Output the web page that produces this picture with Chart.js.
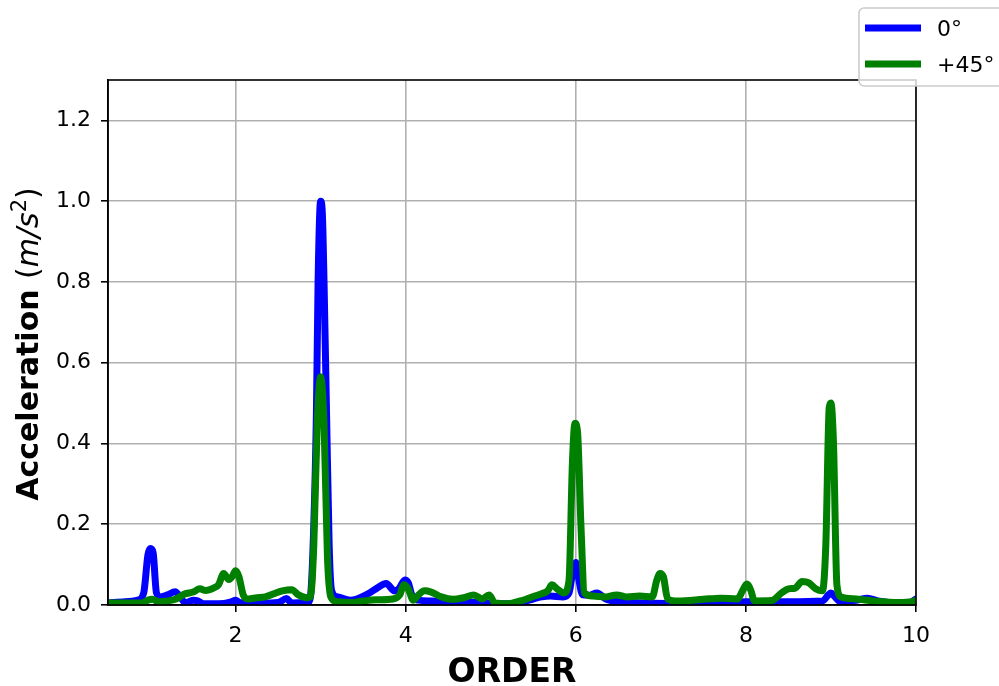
<!DOCTYPE html>
<html>
<head>
<meta charset="utf-8">
<script src="https://cdn.jsdelivr.net/npm/chart.js@4/dist/chart.umd.min.js"></script>
<style>
  html, body { margin: 0; padding: 0; background: #fff; }
  #c { display: block; }
</style>
</head>
<body>
<canvas id="c" width="999" height="686"></canvas>
<script>
// ---- Data ----
const order0 = [0.5, 0.7, 0.85, 0.92, 0.97, 1.0, 1.03, 1.07, 1.12, 1.2, 1.29, 1.35, 1.41, 1.5, 1.56, 1.62, 1.8, 1.95, 2.0, 2.05, 2.3, 2.5, 2.6, 2.66, 2.85,
  2.88, 2.92, 2.95, 2.97, 3.0, 3.02, 3.04, 3.07, 3.1, 3.13, 3.2, 3.35, 3.55, 3.65, 3.77, 3.87, 3.92, 3.99, 4.03, 4.08, 4.15, 4.3, 4.6, 4.9, 5.1, 5.3,
  5.45, 5.6, 5.7, 5.85, 5.92, 5.97, 6.0, 6.03, 6.08, 6.15, 6.25, 6.35, 6.5, 6.8, 7.2, 7.6, 8.0, 8.5, 8.9, 8.97, 9.0, 9.04, 9.1, 9.3, 9.43, 9.55,
  9.8, 9.92, 10.0];
const accel0 = [0.005, 0.008, 0.012, 0.03, 0.125, 0.14, 0.13, 0.03, 0.02, 0.025, 0.033, 0.02, 0.005, 0.012, 0.01, 0.003, 0.003, 0.008, 0.012, 0.006, 0.004, 0.006, 0.016, 0.005, 0.006,
  0.02, 0.2, 0.47, 0.8, 1.0, 0.97, 0.8, 0.47, 0.15, 0.035, 0.02, 0.012, 0.027, 0.04, 0.053, 0.035, 0.04, 0.062, 0.055, 0.02, 0.012, 0.01, 0.008, 0.006, 0.003, 0.003,
  0.012, 0.02, 0.022, 0.02, 0.03, 0.09, 0.105, 0.07, 0.025, 0.024, 0.03, 0.015, 0.008, 0.005, 0.004, 0.005, 0.008, 0.008, 0.01, 0.025, 0.03, 0.022, 0.01, 0.012, 0.017, 0.01,
  0.005, 0.005, 0.015];

const order45 = [0.5, 0.9, 0.97, 1.02, 1.1, 1.2, 1.3, 1.4, 1.5, 1.58, 1.65, 1.74, 1.8, 1.86, 1.92, 1.96, 2.0, 2.04, 2.09, 2.15, 2.25, 2.35, 2.45, 2.55, 2.66, 2.74,
  2.84, 2.88, 2.92, 2.96, 3.0, 3.04, 3.08, 3.12, 3.2, 3.35, 3.5, 3.65, 3.85, 3.93, 3.98, 4.03, 4.09, 4.15, 4.22, 4.3, 4.42, 4.56, 4.68, 4.8, 4.9, 4.98, 5.05,
  5.2, 5.35, 5.5, 5.6, 5.67, 5.72, 5.78, 5.86, 5.92, 5.96, 5.99, 6.02, 6.06, 6.1, 6.2, 6.35, 6.48, 6.6, 6.75, 6.9, 6.95, 6.99, 7.03, 7.08, 7.2, 7.5, 7.7,
  7.9, 7.96, 8.01, 8.06, 8.1, 8.3, 8.42, 8.5, 8.58, 8.66, 8.74, 8.82, 8.9, 8.94, 8.98, 9.0, 9.03, 9.07, 9.12, 9.3, 9.5, 9.8, 9.95, 10.0];
const accel45 = [0.005, 0.005, 0.012, 0.014, 0.008, 0.01, 0.015, 0.027, 0.032, 0.04, 0.036, 0.042, 0.05, 0.078, 0.063, 0.07, 0.085, 0.07, 0.025, 0.015, 0.018, 0.02, 0.028, 0.035, 0.038, 0.025,
  0.018, 0.02, 0.15, 0.45, 0.565, 0.45, 0.12, 0.02, 0.008, 0.006, 0.01, 0.013, 0.015, 0.025, 0.05, 0.04, 0.012, 0.025, 0.035, 0.032, 0.02, 0.014, 0.018, 0.025, 0.015, 0.025, 0.005,
  0.003, 0.01, 0.021, 0.028, 0.035, 0.05, 0.04, 0.03, 0.06, 0.35, 0.45, 0.43, 0.2, 0.03, 0.022, 0.02, 0.025, 0.02, 0.022, 0.02, 0.06, 0.078, 0.07, 0.015, 0.01, 0.014, 0.017,
  0.015, 0.035, 0.052, 0.035, 0.01, 0.011, 0.03, 0.04, 0.042, 0.058, 0.055, 0.04, 0.035, 0.15, 0.49, 0.5, 0.4, 0.05, 0.02, 0.015, 0.01, 0.006, 0.008, 0.012];

const xTicks = [2, 4, 6, 8, 10];
const yTicks = [0.0, 0.2, 0.4, 0.6, 0.8, 1.0, 1.2];
const seriesLabels = ['0°', '+45°'];
const seriesColors = ['#0000ff', '#008000'];

// ---- Chart ----
const FONT = '"DejaVu Sans", sans-serif';
const LW = 7;

const overlay = {
  id: 'overlay',
  afterDatasetsDraw(chart) {
    const ctx = chart.ctx;
    const a = chart.chartArea;
    ctx.save();
    ctx.strokeStyle = '#000';
    ctx.lineWidth = 1.6;
    ctx.strokeRect(a.left, a.top, a.right - a.left, a.bottom - a.top);
    ctx.restore();
  },
  afterDraw(chart) {
    const ctx = chart.ctx;
    const a = chart.chartArea;
    ctx.save();
    // x title
    ctx.fillStyle = '#000';
    ctx.font = 'bold 33px ' + FONT;
    ctx.textAlign = 'center';
    ctx.textBaseline = 'alphabetic';
    ctx.fillText('ORDER', (a.left + a.right) / 2, 682);

    // y title with mixed styles
    const parts = [
      { t: 'Acceleration ', f: 'bold 30px ' + FONT, dy: 0 },
      { t: '(', f: '30px ' + FONT, dy: 0 },
      { t: 'm/s', f: 'italic 30px ' + FONT, dy: 0 },
      { t: '2', f: '21px ' + FONT, dy: -12 },
      { t: ')', f: '30px ' + FONT, dy: 0 }
    ];
    let total = 0;
    parts.forEach(p => { ctx.font = p.f; p.w = ctx.measureText(p.t).width; total += p.w; });
    ctx.translate(38, 344);
    ctx.rotate(-Math.PI / 2);
    ctx.textAlign = 'left';
    let x = -total / 2;
    parts.forEach(p => { ctx.font = p.f; ctx.fillText(p.t, x, p.dy); x += p.w; });
    ctx.setTransform(1, 0, 0, 1, 0, 0);

    // legend
    const bx = 859, by = 8, bw = 150, bh = 78, r = 5;
    ctx.beginPath();
    ctx.moveTo(bx + r, by);
    ctx.lineTo(bx + bw - r, by);
    ctx.arcTo(bx + bw, by, bx + bw, by + r, r);
    ctx.lineTo(bx + bw, by + bh - r);
    ctx.arcTo(bx + bw, by + bh, bx + bw - r, by + bh, r);
    ctx.lineTo(bx + r, by + bh);
    ctx.arcTo(bx, by + bh, bx, by + bh - r, r);
    ctx.lineTo(bx, by + r);
    ctx.arcTo(bx, by, bx + r, by, r);
    ctx.closePath();
    ctx.fillStyle = 'rgba(255,255,255,0.8)';
    ctx.fill();
    ctx.strokeStyle = '#cccccc';
    ctx.lineWidth = 1.6;
    ctx.stroke();
    const rows = [28, 64];
    rows.forEach((y, i) => {
      ctx.strokeStyle = seriesColors[i];
      ctx.lineWidth = LW;
      ctx.lineCap = 'butt';
      ctx.beginPath();
      ctx.moveTo(865, y);
      ctx.lineTo(921, y);
      ctx.stroke();
      ctx.fillStyle = '#000';
      ctx.font = '22px ' + FONT;
      ctx.textAlign = 'left';
      ctx.textBaseline = 'alphabetic';
      ctx.fillText(seriesLabels[i], 937, y + 8);
    });
    ctx.restore();
  }
};

const mk = (xs, ys) => xs.map((x, i) => ({ x: x, y: ys[i] }));

new Chart(document.getElementById('c'), {
  type: 'line',
  data: {
    datasets: [
      { label: seriesLabels[0], data: mk(order0, accel0), borderColor: seriesColors[0], borderWidth: LW, order: 1,
        pointRadius: 0, cubicInterpolationMode: 'monotone', borderJoinStyle: 'round', borderCapStyle: 'round', clip: 0, fill: false },
      { label: seriesLabels[1], data: mk(order45, accel45), borderColor: seriesColors[1], borderWidth: LW, order: 0,
        pointRadius: 0, cubicInterpolationMode: 'monotone', borderJoinStyle: 'round', borderCapStyle: 'round', clip: 0, fill: false }
    ]
  },
  options: {
    responsive: false,
    animation: false,
    devicePixelRatio: 1,
    layout: { padding: { top: 80, right: 83, left: 0, bottom: 0 } },
    plugins: { legend: { display: false }, tooltip: { enabled: false } },
    scales: {
      x: {
        type: 'linear', min: 0.5, max: 10,
        afterBuildTicks: s => { s.ticks = xTicks.map(v => ({ value: v })); },
        afterFit: s => { s.height = 81; },
        grid: { color: '#b0b0b0', lineWidth: 1.6, tickColor: '#000', tickLength: 7, tickWidth: 1.6 },
        border: { color: '#000', width: 1.6 },
        ticks: { color: '#000', font: { family: FONT, size: 22 }, padding: 11, maxRotation: 0, autoSkip: false,
                 callback: v => String(v) },
        title: { display: false }
      },
      y: {
        type: 'linear', min: 0, max: 1.3,
        afterBuildTicks: s => { s.ticks = yTicks.map(v => ({ value: v })); },
        afterFit: s => { s.width = 108; },
        grid: { color: '#b0b0b0', lineWidth: 1.6, tickColor: '#000', tickLength: 7, tickWidth: 1.6 },
        border: { color: '#000', width: 1.6 },
        ticks: { color: '#000', font: { family: FONT, size: 22 }, padding: 10, autoSkip: false,
                 callback: v => Number(v).toFixed(1) },
        title: { display: false }
      }
    }
  },
  plugins: [overlay]
});
</script>
</body>
</html>
